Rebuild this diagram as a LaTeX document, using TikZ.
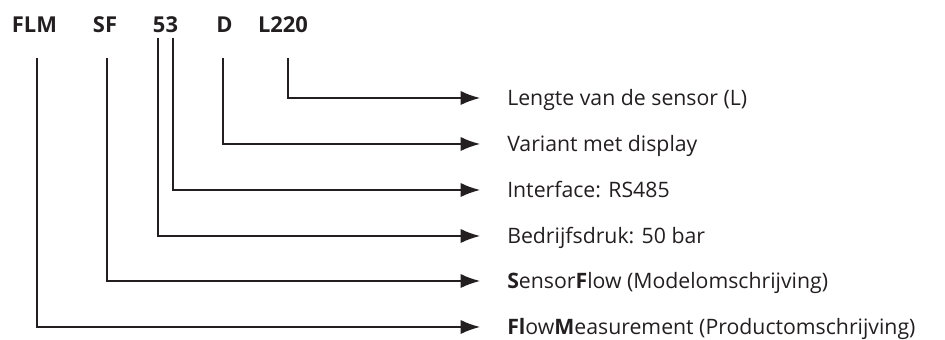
\documentclass[tikz,border=0pt]{standalone}
\usepackage{fontspec}
\setmainfont{Open Sans}
\usetikzlibrary{arrows.meta}
\definecolor{inkt}{RGB}{35,31,32}
\tikzset{
  code/.style={anchor=base, inner sep=0pt, text=inkt, font=\bfseries\fontsize{16.5}{19}\selectfont},
  uitleg/.style={anchor=west, inner sep=0pt, text height=11.2pt, text depth=0pt, text=inkt, font=\fontsize{16}{18}\selectfont},
  pijl/.style={draw=inkt, line width=1.4pt, -{Latex[length=5.2mm,width=3.8mm]}, shorten >=7.1mm}
}
\begin{document}
\begin{tikzpicture}[x=0.2646mm, y=-0.2646mm]
  \useasboundingbox (0,0) rectangle (945,340);

  % Typecode
  \node[code] (flm) at (34.5,33) {FLM};
  \node[code] (sf) at (105,33) {SF};
  \node[code] (druk) at (165.5,33) {53};
  \node[code] (disp) at (224.5,33) {D};
  \node[code] (lengte) at (283,33) {L220};

  % Beginpunten van de lijnen
  \coordinate (pflm) at (37,58);
  \coordinate (psf) at (107,58);
  \coordinate (pdruk) at (158,38);
  \coordinate (pif) at (173,38);
  \coordinate (pdisp) at (223,58);
  \coordinate (plengte) at (288,58);

  % Uitleg
  \node[uitleg] (tlengte) at (507,98) {Lengte van de sensor (L)};
  \node[uitleg] (tdisp) at (507,144) {Variant met display};
  \node[uitleg] (tif) at (507,190) {Interface: RS485};
  \node[uitleg] (tdruk) at (507,236) {Bedrijfsdruk: 50 bar};
  \node[uitleg] (tsf) at (507,281) {\textbf{S}ensor\textbf{F}low (Modelomschrijving)};
  \node[uitleg] (tflm) at (507,327) {\textbf{Fl}ow\textbf{M}easurement (Productomschrijving)};

  % Verbindingen
  \draw[pijl] (plengte) |- (tlengte.west);
  \draw[pijl] (pdisp) |- (tdisp.west);
  \draw[pijl] (pif) |- (tif.west);
  \draw[pijl] (pdruk) |- (tdruk.west);
  \draw[pijl] (psf) |- (tsf.west);
  \draw[pijl] (pflm) |- (tflm.west);
\end{tikzpicture}
\end{document}
